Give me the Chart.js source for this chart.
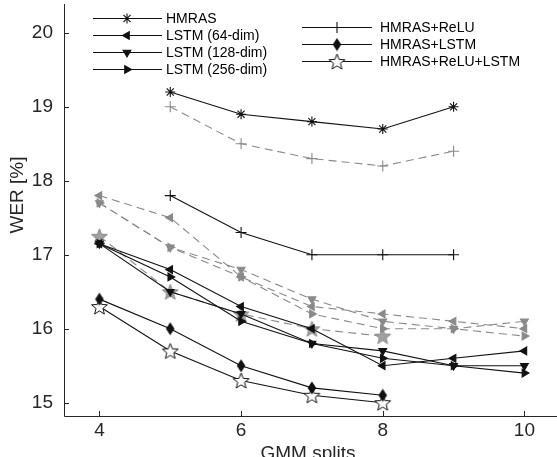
<!DOCTYPE html>
<html>
<head>
<meta charset="utf-8">
<script src="https://cdn.jsdelivr.net/npm/chart.js@4.4.1/dist/chart.umd.min.js"></script>
<style>
    html, body { margin: 0; padding: 0; background: #fff; }
    #wrap { width: 557px; height: 457px; position: relative; }
</style>
</head>
<body>
<div id="wrap"><canvas id="werChart"></canvas></div>
<script>
const gmmSplits = [4, 5, 6, 7, 8, 9, 10];
const xTicks = [4, 6, 8, 10];
const yTicks = [15, 16, 17, 18, 19, 20];

// solid black series (in legend)
const hmras         = [null, 19.2, 18.9, 18.8, 18.7, 19.0, null];
const lstm64        = [17.15, 16.8, 16.3, 16.0, 15.5, 15.6, 15.7];
const lstm128       = [17.15, 16.5, 16.2, 15.8, 15.7, 15.5, 15.5];
const lstm256       = [17.15, 16.7, 16.1, 15.8, 15.6, 15.5, 15.4];
const hmrasRelu     = [null, 17.8, 17.3, 17.0, 17.0, 17.0, null];
const hmrasLstm     = [16.4, 16.0, 15.5, 15.2, 15.1, null, null];
const hmrasReluLstm = [16.3, 15.7, 15.3, 15.1, 15.0, null, null];

// dashed gray series (not in legend)
const grayTop   = [null, 19.0, 18.5, 18.3, 18.2, 18.4, null];
const grayLeft  = [17.8, 17.5, 16.7, 16.3, 16.2, 16.1, 16.0];
const grayDown  = [17.7, 17.1, 16.8, 16.4, 16.1, 16.0, 16.1];
const grayRight = [17.7, 17.1, 16.7, 16.2, 16.0, 16.0, 15.9];
const grayStar  = [17.25, 16.5, 16.2, 16.0, 15.9, null, null];

const BLACK = '#111111';
const GRAY = '#8a8a8a';
const FONT = '"Liberation Sans", Arial, Helvetica, sans-serif';

function makeStar(fill, stroke) {
    const c = document.createElement('canvas');
    c.width = 19; c.height = 19;
    const g = c.getContext('2d');
    g.beginPath();
    for (let i = 0; i < 10; i++) {
        const r = i % 2 ? 3.6 : 8.3;
        const a = -Math.PI / 2 + i * Math.PI / 5;
        g.lineTo(9.5 + r * Math.cos(a), 10.3 + r * Math.sin(a));
    }
    g.closePath();
    g.fillStyle = fill; g.fill();
    g.strokeStyle = stroke; g.lineWidth = 1; g.stroke();
    return c;
}

function makeDiamond(fill) {
    const c = document.createElement('canvas');
    c.width = 10; c.height = 14;
    const g = c.getContext('2d');
    g.beginPath();
    g.moveTo(5, 0.5); g.lineTo(9.3, 7); g.lineTo(5, 13.5); g.lineTo(0.7, 7);
    g.closePath();
    g.fillStyle = fill; g.fill();
    return c;
}

const blackStar = makeStar('#ffffff', BLACK);
const grayStarImg = makeStar('#a0a0a0', GRAY);
const blackDiamond = makeDiamond(BLACK);

function series(label, values, color, style, opts) {
    return Object.assign({
        label: label,
        data: gmmSplits.map((x, i) => ({ x: x, y: values[i] })),
        borderColor: color,
        backgroundColor: color,
        pointBackgroundColor: color,
        pointBorderColor: color,
        borderWidth: 1.1,
        pointBorderWidth: 1.1,
        pointStyle: style,
        pointRadius: 5,
        pointHoverRadius: 5,
        tension: 0,
        fill: false,
        spanGaps: false
    }, opts || {});
}

const datasets = [
    series('HMRAS', hmras, BLACK, 'star', { pointRadius: 5 }),
    series('LSTM (64-dim)', lstm64, BLACK, 'triangle', { pointRotation: 270, pointRadius: 4.5 }),
    series('LSTM (128-dim)', lstm128, BLACK, 'triangle', { pointRotation: 180, pointRadius: 4.5 }),
    series('LSTM (256-dim)', lstm256, BLACK, 'triangle', { pointRotation: 90, pointRadius: 4.5 }),
    series('HMRAS+ReLU', hmrasRelu, BLACK, 'cross', { pointRadius: 5.5 }),
    series('HMRAS+LSTM', hmrasLstm, BLACK, blackDiamond),
    series('HMRAS+ReLU+LSTM', hmrasReluLstm, BLACK, blackStar),
    series('gray-top', grayTop, GRAY, 'cross', { borderDash: [8, 5], pointRadius: 5.5 }),
    series('gray-left', grayLeft, GRAY, 'triangle', { borderDash: [8, 5], pointRotation: 270, pointRadius: 4.5 }),
    series('gray-down', grayDown, GRAY, 'triangle', { borderDash: [8, 5], pointRotation: 180, pointRadius: 4.5 }),
    series('gray-right', grayRight, GRAY, 'triangle', { borderDash: [8, 5], pointRotation: 90, pointRadius: 4.5 }),
    series('gray-star', grayStar, GRAY, grayStarImg, { borderDash: [8, 5] })
];

const legendLeft = [0, 1, 2, 3];
const legendRight = [4, 5, 6];

const decorPlugin = {
    id: 'decor',
    afterDraw(chart) {
        const ctx = chart.ctx;
        const area = chart.chartArea;
        const xs = chart.scales.x;
        const ys = chart.scales.y;
        ctx.save();
        // axes
        ctx.strokeStyle = '#262626';
        ctx.lineWidth = 1;
        ctx.beginPath();
        ctx.moveTo(area.left + 0.5, area.top);
        ctx.lineTo(area.left + 0.5, area.bottom + 0.5);
        ctx.lineTo(area.right, area.bottom + 0.5);
        ctx.stroke();
        // inward ticks
        ctx.beginPath();
        yTicks.forEach(v => {
            const y = Math.round(ys.getPixelForValue(v)) + 0.5;
            ctx.moveTo(area.left, y); ctx.lineTo(area.left + 5, y);
        });
        xTicks.forEach(v => {
            const x = Math.round(xs.getPixelForValue(v)) + 0.5;
            ctx.moveTo(x, area.bottom); ctx.lineTo(x, area.bottom - 5);
        });
        ctx.stroke();

        // axis titles
        ctx.fillStyle = '#262626';
        ctx.font = '19px ' + FONT;
        ctx.textAlign = 'center';
        ctx.textBaseline = 'alphabetic';
        ctx.fillText('GMM splits', 308, 459);
        ctx.save();
        ctx.translate(18, 195);
        ctx.rotate(-Math.PI / 2);
        ctx.textBaseline = 'middle';
        ctx.fillText('WER [%]', 0, 0);
        ctx.restore();

        // legend
        const drawEntry = (idx, x1, x2, mx, tx, y) => {
            const ds = chart.data.datasets[idx];
            ctx.strokeStyle = ds.borderColor;
            ctx.lineWidth = 1;
            ctx.setLineDash([]);
            ctx.beginPath();
            ctx.moveTo(x1, y + 0.5); ctx.lineTo(x2, y + 0.5);
            ctx.stroke();
            ctx.fillStyle = ds.pointBackgroundColor;
            ctx.strokeStyle = ds.pointBorderColor;
            ctx.lineWidth = ds.pointBorderWidth;
            Chart.helpers.drawPoint(ctx, {
                pointStyle: ds.pointStyle,
                rotation: ds.pointRotation || 0,
                radius: ds.pointRadius,
                borderWidth: ds.pointBorderWidth
            }, mx, y + 0.5);
            ctx.fillStyle = '#000';
            ctx.font = '14px ' + FONT;
            ctx.textAlign = 'left';
            ctx.textBaseline = 'middle';
            ctx.fillText(ds.label, tx, y + 1);
        };
        const leftY = [18, 35, 52, 69];
        legendLeft.forEach((idx, i) => drawEntry(idx, 93, 162, 127, 166, leftY[i]));
        const rightY = [27, 44, 61];
        legendRight.forEach((idx, i) => drawEntry(idx, 302, 372, 337, 380, rightY[i]));
        ctx.restore();
    }
};

const ctx = document.getElementById('werChart').getContext('2d');
new Chart(ctx, {
    type: 'line',
    data: { datasets: datasets },
    options: {
        responsive: true,
        maintainAspectRatio: false,
        animation: false,
        layout: { autoPadding: false, padding: { top: 4, right: 0, left: 0, bottom: 0 } },
        plugins: {
            legend: { display: false },
            tooltip: { enabled: false }
        },
        scales: {
            x: {
                type: 'linear',
                min: 3.5,
                max: 10.46,
                grid: { display: false, drawTicks: false },
                border: { display: false },
                afterBuildTicks: s => { s.ticks = xTicks.map(v => ({ value: v })); },
                afterFit: s => { s.height = 41; s.paddingLeft = 0; s.paddingRight = 0; },
                ticks: { color: '#262626', padding: 3, font: { family: FONT, size: 19 }, maxRotation: 0 }
            },
            y: {
                type: 'linear',
                min: 14.82,
                max: 20.39,
                grid: { display: false, drawTicks: false },
                border: { display: false },
                afterBuildTicks: s => { s.ticks = yTicks.map(v => ({ value: v })); },
                afterFit: s => { s.width = 64; s.paddingTop = 0; s.paddingBottom = 0; },
                ticks: { color: '#262626', padding: 11, font: { family: FONT, size: 19 } }
            }
        }
    },
    plugins: [decorPlugin]
});
</script>
</body>
</html>
